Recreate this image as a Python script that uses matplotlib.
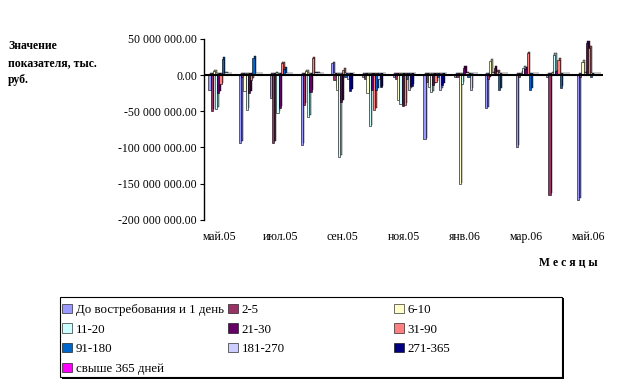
import matplotlib
matplotlib.use("Agg")
import matplotlib.pyplot as plt
from matplotlib.ticker import FuncFormatter, FixedLocator
from matplotlib.patches import Rectangle
from matplotlib.colors import to_rgb
import numpy as np

plt.rcParams['font.family'] = ['Liberation Serif', 'DejaVu Serif']

months = ["май.05", "июн.05", "июл.05", "авг.05", "сен.05", "окт.05", "ноя.05",
          "дек.05", "янв.06", "фев.06", "мар.06", "апр.06", "май.06"]
shown_labels = ["май.05", "июл.05", "сен.05", "ноя.05", "янв.06", "мар.06", "май.06"]

series_names = ["До востребования и 1 день", "2-5", "6-10", "11-20", "21-30",
                "31-90", "91-180", "181-270", "271-365", "свыше 365 дней"]
colors = ["#9999FF", "#993366", "#FFFFCC", "#CCFFFF", "#660066",
          "#FF8080", "#0066CC", "#CCCCFF", "#000080", "#FF00FF"]

# values in millions (axis shows value * 1e6)
s_1day   = [-20, -94, -32, -97, 16, -2, -2, -89, -3, -46, -99, -2, -172]
s_2_5    = [-50, -2, -94, -41, -7, -5, -5, -10, -3, -5, -2, -165, -2]
s_6_10   = [5, -22, 2, 5, -21, -25, -35, -16, -151, 20, 3, 2, 18]
s_11_20  = [-47, -48, -52, -58, -113, -71, -40, -24, -12, 2, 10, 28, 2]
s_21_30  = [-25, -25, -45, -23, -37, -21, -43, -14, 10, 10, 8, 5, 45]
s_31_90  = [-13, -7, 16, 23, 7, -48, -41, -10, 2, 5, 30, 21, 37]
s_91_180 = [22, 24, 8, 2, -3, -20, -5, -3, -2, -20, -20, -18, -2]
s_181_270 = [2, 1, 1, 2, -5, -5, -20, -20, -20, 1, 1, 1, 1]
s_271_365 = [1, 1, 1, 1, -22, -17, -15, -14, 1, 1, 1, 1, 1]
s_365plus = [1, 1, 1, 1, 1, 1, 1, 1, 1, 1, 1, 1, 1]

all_series = [s_1day, s_2_5, s_6_10, s_11_20, s_21_30, s_31_90,
              s_91_180, s_181_270, s_271_365, s_365plus]

fig = plt.figure(figsize=(6.24, 3.85), dpi=100)
ax = fig.add_axes([0.327, 0.429, 0.640, 0.470])

x = np.arange(len(months))
w = 0.072
dx = 0.05
dy = 2.5
handles = []
for i, (vals, name, c) in enumerate(zip(all_series, series_names, colors)):
    pos = x - 0.36 + w * (i + 0.5)
    dark = tuple(v * 0.6 for v in to_rgb(c))
    ax.bar(pos + dx, vals, width=w, bottom=dy, color=dark,
           edgecolor="black", linewidth=0.3, zorder=2 + 2 * i)
    b = ax.bar(pos, vals, width=w, color=c,
               edgecolor="black", linewidth=0.4, zorder=3 + 2 * i)
    handles.append(b)

ax.axhline(0, color="black", lw=1.5, zorder=30)
ax.set_ylim(-200, 50)
ax.set_xlim(-0.5, len(months) - 0.5)
ax.yaxis.set_major_locator(FixedLocator([-200, -150, -100, -50, 0, 50]))
ax.yaxis.set_major_formatter(FuncFormatter(
    lambda v, p: f"{v * 1e6:,.2f}".replace(",", " ")))
ax.set_xticks([x[months.index(m)] for m in shown_labels])
ax.set_xticklabels(shown_labels)
for s in ["top", "right", "bottom"]:
    ax.spines[s].set_visible(False)
ax.spines["left"].set_linewidth(1.0)
ax.tick_params(axis="y", direction="out", length=3, labelsize=8.5, pad=2)
ax.tick_params(axis="x", length=0, labelsize=8.5, pad=8)

fig.text(0.013, 0.895, "Значение\nпоказателя, тыс.\nруб.", fontsize=8.5,
         fontweight="bold", va="top", ha="left", linespacing=1.55)
fig.text(0.958, 0.318, "М е с я ц ы", fontsize=8.5, fontweight="bold",
         ha="right", va="center")

# legend frame with shadow
W, H = 624.0, 385.0
fig.patches.append(Rectangle((62 / W, 1 - 379 / H), 502 / W, 81 / H,
                             transform=fig.transFigure, facecolor="black",
                             edgecolor="none", zorder=0))
fig.patches.append(Rectangle((60 / W, 1 - 377 / H), 502 / W, 80 / H,
                             transform=fig.transFigure, facecolor="white",
                             edgecolor="black", linewidth=0.8, zorder=1))

cols = [[0, 3, 6, 9], [1, 4, 7], [2, 5, 8]]
col_x = [61, 227, 393]
for cx, idx in zip(col_x, cols):
    lg = fig.legend([handles[i] for i in idx], [series_names[i] for i in idx],
                    loc="upper left", bbox_to_anchor=(cx / W, 1 - 302.5 / H),
                    frameon=False, fontsize=9.3, handlelength=0.75,
                    handleheight=0.75, handletextpad=0.3, labelspacing=0.57,
                    borderpad=0.1, borderaxespad=0)
    lg.set_zorder(5)

fig.savefig("out.png", dpi=100)
